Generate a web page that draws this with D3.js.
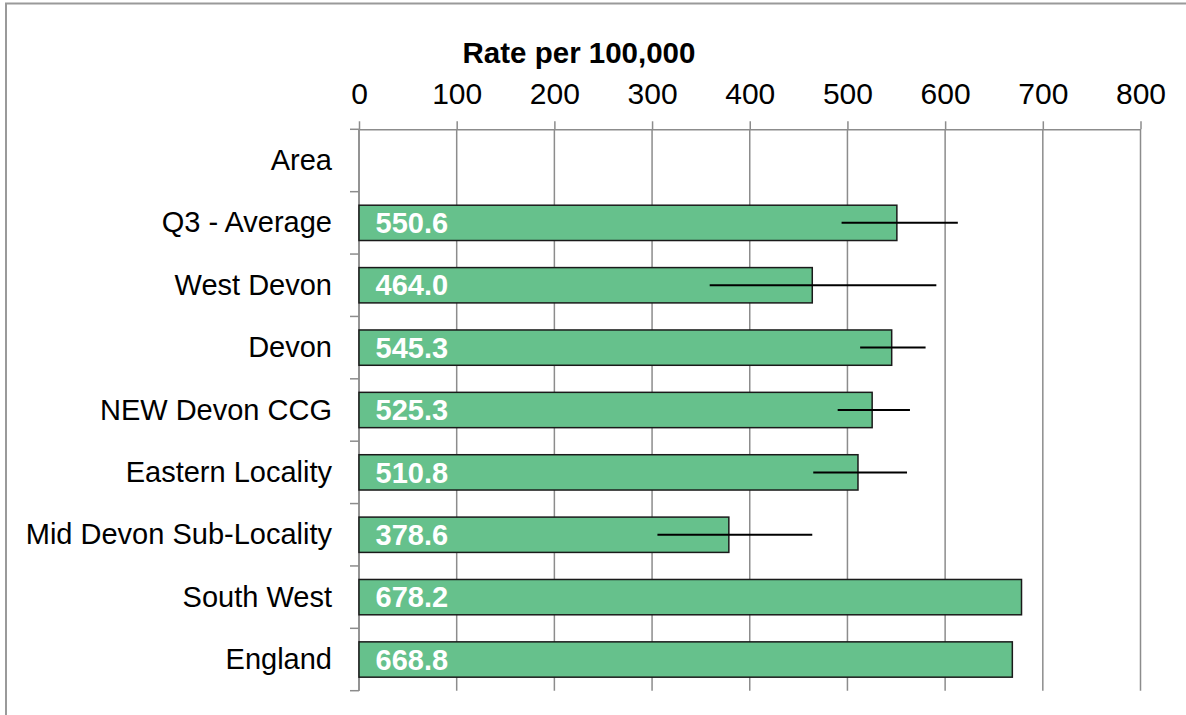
<!DOCTYPE html>
<html>
<head>
<meta charset="utf-8">
<script src="https://cdn.jsdelivr.net/npm/d3@7"></script>
<style>
  html, body { margin: 0; padding: 0; background: #fff; }
  svg { display: block; }
  text { font-family: "Liberation Sans", Arial, sans-serif; }
</style>
</head>
<body>
<svg id="chart" width="1186" height="715"></svg>
<script>
const categories = ["Area", "Q3 - Average", "West Devon", "Devon", "NEW Devon CCG",
  "Eastern Locality", "Mid Devon Sub-Locality", "South West", "England"];
const values = [null, 550.6, 464.0, 545.3, 525.3, 510.8, 378.6, 678.2, 668.8];
const lowerCI = [null, 494, 359, 513, 490, 465, 305.5, null, null];
const upperCI = [null, 613, 591, 580, 564, 561, 464, null, null];
const xTicks = [0, 100, 200, 300, 400, 500, 600, 700, 800];
const axisTitle = "Rate per 100,000";

const svg = d3.select("#chart");
const W = 1186, H = 715;
const m = { left: 359, right: 45.5, top: 129.3, bottom: 24.3 };

// frame
svg.append("rect").attr("x", 6).attr("y", 3.5).attr("width", W + 50).attr("height", H + 50)
  .attr("fill", "none").attr("stroke", "#9a9a9a").attr("stroke-width", 2);

const x = d3.scaleLinear().domain([0, 800]).range([m.left, W - m.right]);
const y = d3.scaleBand().domain(categories).range([m.top, H - m.bottom])
  .paddingInner(0.434).paddingOuter(0.217);

const gridColor = "#8c8c8c";

// gridlines
svg.append("g").selectAll("line").data(xTicks).join("line")
  .attr("x1", d => x(d)).attr("x2", d => x(d))
  .attr("y1", m.top).attr("y2", H - m.bottom)
  .attr("stroke", gridColor).attr("stroke-width", 1.5);

// top value axis
const xAxis = svg.append("g").attr("transform", `translate(0,${m.top})`)
  .call(d3.axisTop(x).tickValues(xTicks).tickSize(8).tickPadding(17).tickSizeOuter(0));
xAxis.select(".domain").attr("stroke", gridColor).attr("stroke-width", 1.5);
xAxis.selectAll(".tick line").attr("stroke", gridColor).attr("stroke-width", 1.5);
xAxis.selectAll("text").attr("font-size", 30).attr("fill", "#000")
  .attr("font-family", "'Liberation Sans', Arial, sans-serif");

// axis title
svg.append("text").attr("x", 579).attr("y", 63).attr("text-anchor", "middle")
  .attr("font-size", 29.5).attr("font-weight", "bold").attr("fill", "#000").text(axisTitle);

// category axis
const step = y.step();
const bounds = d3.range(categories.length + 1).map(i => m.top + i * step);
svg.append("line").attr("x1", m.left).attr("x2", m.left).attr("y1", m.top).attr("y2", H - m.bottom)
  .attr("stroke", gridColor).attr("stroke-width", 1.5);
svg.append("g").selectAll("line").data(bounds).join("line")
  .attr("x1", m.left - 9).attr("x2", m.left).attr("y1", d => d).attr("y2", d => d)
  .attr("stroke", gridColor).attr("stroke-width", 1.5);

const yAxis = svg.append("g").attr("transform", `translate(${m.left},0)`)
  .call(d3.axisLeft(y).tickSize(0).tickPadding(27));
yAxis.select(".domain").remove();
yAxis.selectAll("text").attr("font-size", 29).attr("fill", "#000").attr("dy", "0.33em")
  .attr("font-family", "'Liberation Sans', Arial, sans-serif");

const rows = categories.map((c, i) => ({ c, v: values[i], lo: lowerCI[i], hi: upperCI[i] }))
  .filter(d => d.v != null);

// bars
svg.append("g").selectAll("rect").data(rows).join("rect")
  .attr("x", x(0)).attr("y", d => y(d.c))
  .attr("width", d => x(d.v) - x(0)).attr("height", y.bandwidth())
  .attr("fill", "#66c18c").attr("stroke", "#1a1a1a").attr("stroke-width", 1.5);

// error bars
svg.append("g").selectAll("line").data(rows.filter(d => d.lo != null)).join("line")
  .attr("x1", d => x(d.lo)).attr("x2", d => x(d.hi))
  .attr("y1", d => y(d.c) + y.bandwidth() / 2).attr("y2", d => y(d.c) + y.bandwidth() / 2)
  .attr("stroke", "#000").attr("stroke-width", 2);

// value labels
svg.append("g").selectAll("text").data(rows).join("text")
  .attr("x", x(0) + 16.5).attr("y", d => y(d.c) + y.bandwidth() - 7.5)
  .attr("font-size", 29).attr("font-weight", "bold").attr("fill", "#fff")
  .text(d => d.v.toFixed(1));
</script>
</body>
</html>
